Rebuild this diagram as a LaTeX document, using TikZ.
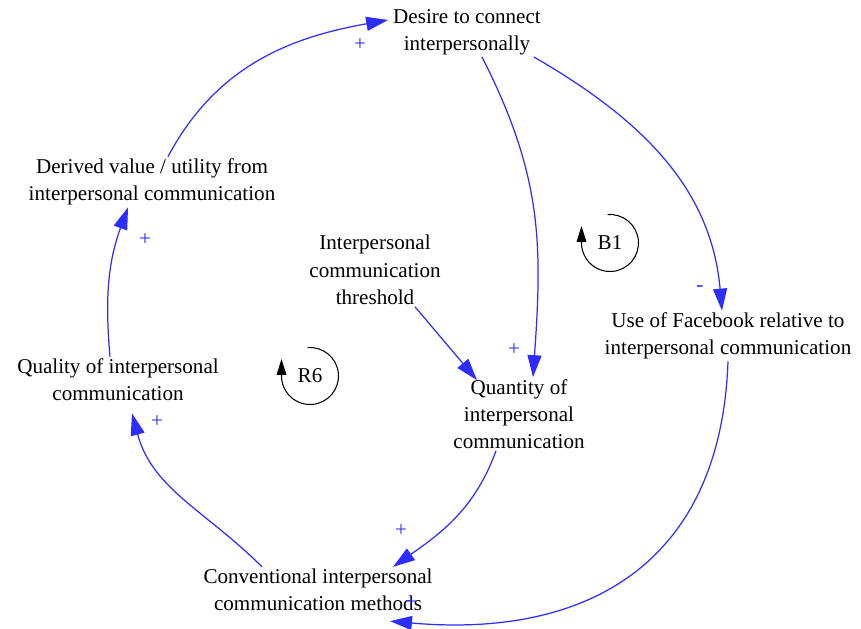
\documentclass[tikz,border=0pt]{standalone}
\usepackage{fontspec}
\setmainfont{Liberation Serif}
\usetikzlibrary{arrows.meta}
\definecolor{linkblue}{RGB}{45,45,255}

\begin{document}
\begin{tikzpicture}[var/.style={align=center,inner sep=1pt,font=\fontsize{12}{15.5}\selectfont},
pol/.style={text=linkblue,inner sep=0pt,font=\fontsize{12}{14}\selectfont},
link/.style={draw=linkblue,line width=0.7pt,-{Triangle[length=12.5pt,width=8pt]}},
loopsym/.style={line width=0.6pt,-{Triangle[length=9pt,width=5.5pt]}}]

\useasboundingbox (0,0) rectangle (17.22,12.58);

\node[var] (des) at (9.34,11.94) {Desire to connect\\interpersonally};

\node[var] (der) at (3.04,8.94) {Derived value / utility from\\interpersonal communication};

\node[var] (thr) at (7.50,7.18) {Interpersonal\\communication\\threshold};

\node[var] (fb) at (14.56,5.86) {Use of Facebook relative to\\interpersonal communication};

\node[var] (qual) at (2.36,4.98) {Quality of interpersonal\\communication};

\node[var] (quan) at (10.38,4.30) {Quantity of\\interpersonal\\communication};

\node[var] (conv) at (6.36,0.78) {Conventional interpersonal\\communication methods};

\node[var] (b1) at (12.2,7.72) {B1};

\node[var] (r6) at (6.2,5.06) {R6};

\node[pol] (p1) at (7.20,11.68) {+};
\node[pol] (p2) at (10.28,5.58) {+};
\node[pol] (p3) at (14.00,6.80) {-};
\node[pol] (p5) at (8.02,1.96) {+};
\node[pol] (p6) at (8.22,0.52) {+};
\node[pol] (p7) at (3.14,4.14) {+};
\node[pol] (p8) at (2.90,7.78) {+};

\draw[link] ([xshift=0.32cm]der.north) to[out=62,in=190] ([xshift=-0.06cm,yshift=0.24cm]des.west);
\draw[link] ([xshift=0.3cm]des.south) to[out=-63,in=86,looseness=1.05] ([xshift=0.28cm]quan.north);
\draw[link] ([xshift=-0.18cm]des.south east) to[out=-30,in=95] ([xshift=-0.12cm]fb.north);
\draw[link] ([xshift=0.8cm]thr.south) -- ([xshift=-0.84cm,yshift=-0.06cm]quan.north);
\draw[link] ([xshift=-0.46cm]quan.south) to[out=-110,in=35] ([xshift=1.5cm]conv.north);
\draw[link] (fb.south) to[out=-92,in=-5,looseness=1.2] ([xshift=1.44cm,yshift=-0.16cm]conv.south);
\draw[link] ([xshift=-1.12cm]conv.north) to[out=135,in=-75] ([xshift=0.28cm,yshift=-0.2cm]qual.south);
\draw[link] ([xshift=-0.16cm]qual.north) to[out=95,in=-110] ([xshift=-0.48cm]der.south);

\draw[loopsym] (b1.center) ++(95:0.57) arc[start angle=95,end angle=-180,radius=0.57] -- ++(0,0.34);
\draw[loopsym] (r6.center) ++(95:0.57) arc[start angle=95,end angle=-180,radius=0.57] -- ++(0,0.34);

\end{tikzpicture}
\end{document}
